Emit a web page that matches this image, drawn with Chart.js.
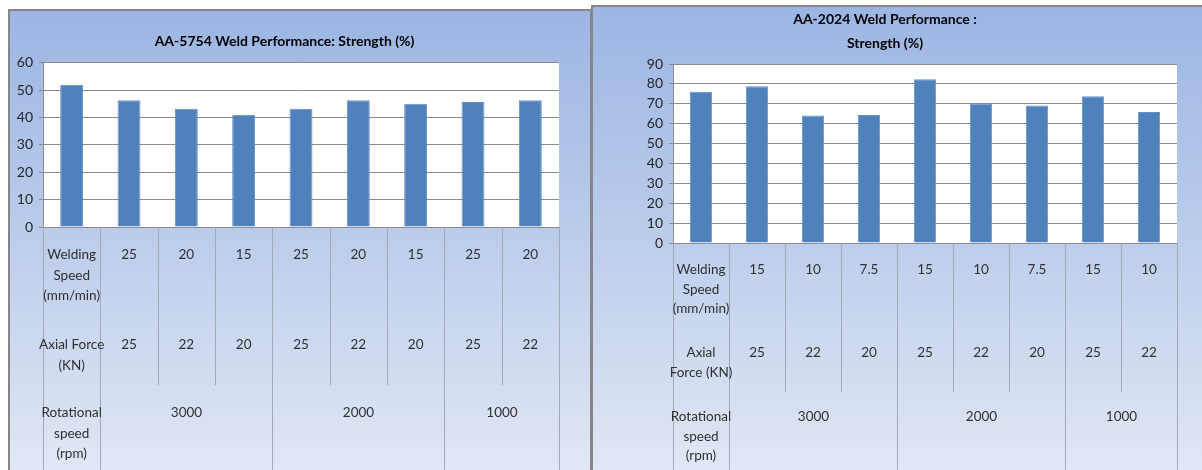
<!DOCTYPE html>
<html>
<head>
<meta charset="utf-8">
<script src="https://cdn.jsdelivr.net/npm/chart.js@4.4.0/dist/chart.umd.min.js"></script>
<style>
  html, body { margin: 0; padding: 0; background: #fff; overflow: hidden; }
  body { width: 1202px; height: 470px; position: relative; }
  .panel { position: absolute; box-sizing: border-box; border: 2px solid #868686; border-bottom: none; }
  #panelA { left: 8px; top: 9px; width: 584px; height: 461px; }
  #panelB { left: 591px; top: 5px; width: 613px; height: 465px; border-right: none; }
  .panel canvas { display: block; }
</style>
</head>
<body>
<div class="panel" id="panelA"><canvas id="chartA"></canvas></div>
<div class="panel" id="panelB"><canvas id="chartB"></canvas></div>
<script>
// AA-5754 data
const strength5754 = [52, 46.3, 43.2, 41, 43.2, 46.3, 45, 45.7, 46.3];
const speed5754 = ['25', '20', '15', '25', '20', '15', '25', '20'];
const force5754 = ['25', '22', '20', '25', '22', '20', '25', '22'];
const yTicks5754 = { min: 0, max: 60, step: 10 };

// AA-2024 data
const strength2024 = [76.1, 78.8, 64.1, 64.4, 82.3, 70.1, 69.1, 73.8, 65.9];
const speed2024 = ['15', '10', '7.5', '15', '10', '7.5', '15', '10'];
const force2024 = ['25', '22', '20', '25', '22', '20', '25', '22'];
const yTicks2024 = { min: 0, max: 90, step: 10 };

// rotational speed groups (shared)
const rpmGroups = ['3000', '2000', '1000'];
const rpmSpans = [3, 3, 2];

const fontFamily = 'Lato, "Open Sans", sans-serif';

// header column labels for the table under the axis
const headA = { speed: ['Welding', 'Speed', '(mm/min)'], force: ['Axial Force', '(KN)'], rpm: ['Rotational', 'speed', '(rpm)'] };
const headB = { speed: ['Welding', 'Speed', '(mm/min)'], force: ['Axial', 'Force (KN)'], rpm: ['Rotational', 'speed', '(rpm)'] };

function makeLabels(head, speed, force) {
  let labels = [head.speed.join(' ')];
  for (let i = 0; i < speed.length; i++) {
    labels.push(speed[i] + ' / ' + force[i]);
  }
  return labels;
}

// panel background: gradient + white plot area
const panelBg = {
  id: 'panelBg',
  beforeDraw(chart) {
    const ctx = chart.ctx;
    const g = ctx.createLinearGradient(0, 0, 0, chart.height);
    g.addColorStop(0, '#9CB5E3');
    g.addColorStop(0.5, '#BCCDEB');
    g.addColorStop(1, '#E1E7F4');
    ctx.save();
    ctx.fillStyle = g;
    ctx.fillRect(0, 0, chart.width, chart.height);
    const a = chart.chartArea;
    ctx.fillStyle = '#ffffff';
    ctx.fillRect(a.left, a.top, a.right - a.left, a.bottom - a.top);
    ctx.restore();
  }
};

// multi level category table drawn under the plot
const catTable = {
  id: 'catTable',
  afterDraw(chart, args, opts) {
    const ctx = chart.ctx;
    const a = chart.chartArea;
    const n = chart.data.labels.length;
    const colW = (a.right - a.left) / n;
    const edge = i => Math.round(a.left + colW * i) + 0.5;
    const mid = i => a.left + colW * (i + 0.5);
    const b = a.bottom;

    // vertical lines
    let full = [0, n];
    let acc = 1;
    full.push(acc);
    rpmSpans.forEach(s => { acc += s; full.push(acc); });
    ctx.save();
    ctx.strokeStyle = '#A3A9B4';
    ctx.lineWidth = 1;
    for (let i = 0; i <= n; i++) {
      ctx.beginPath();
      ctx.moveTo(edge(i), b);
      ctx.lineTo(edge(i), full.includes(i) ? chart.height : b + opts.shortEnd);
      ctx.stroke();
    }

    ctx.fillStyle = '#303030';
    ctx.font = '13.5px ' + fontFamily;
    ctx.textAlign = 'center';
    ctx.textBaseline = 'middle';
    const lh = opts.lineHeight;
    const lines = (arr, cx, y) => arr.forEach((t, k) => ctx.fillText(t, cx, y + k * lh));

    // header column
    lines(opts.head.speed, mid(0), b + opts.rows[0]);
    lines(opts.head.force, mid(0), b + opts.rows[1]);
    lines(opts.head.rpm, mid(0), b + opts.rows[2]);

    // value rows
    opts.speed.forEach((v, i) => ctx.fillText(v, mid(i + 1), b + opts.rows[0]));
    opts.force.forEach((v, i) => ctx.fillText(v, mid(i + 1), b + opts.rows[1]));

    // rotational speed groups
    let start = 1;
    rpmGroups.forEach((g, k) => {
      const cx = (edge(start) + edge(start + rpmSpans[k])) / 2;
      ctx.fillText(g, cx, b + opts.rows[2]);
      start += rpmSpans[k];
    });
    ctx.restore();
  }
};

function buildChart(id, cfg) {
  return new Chart(document.getElementById(id), {
    type: 'bar',
    data: {
      labels: makeLabels(cfg.head, cfg.speed, cfg.force),
      datasets: [{
        data: cfg.values,
        backgroundColor: '#4F81BD',
        borderColor: '#6890C4',
        borderWidth: 1,
        barPercentage: 0.4,
        categoryPercentage: 1
      }]
    },
    options: {
      responsive: false,
      animation: false,
      layout: { padding: cfg.padding },
      plugins: {
        legend: { display: false },
        tooltip: { enabled: false },
        title: {
          display: true,
          text: cfg.title,
          color: '#000000',
          font: { family: fontFamily, size: 14, weight: 'bold', lineHeight: 1.7 },
          padding: cfg.titlePad
        },
        catTable: {
          head: cfg.head, speed: cfg.speed, force: cfg.force,
          rows: cfg.rows, lineHeight: cfg.lineHeight, shortEnd: cfg.shortEnd
        }
      },
      scales: {
        x: { display: false },
        y: {
          min: cfg.ticks.min,
          max: cfg.ticks.max,
          ticks: { stepSize: cfg.ticks.step, color: '#262626', padding: 6, font: { family: fontFamily, size: 14 } },
          grid: { color: '#8A8A8A', tickLength: 4, tickColor: '#8A8A8A' },
          border: { color: '#8A8A8A' },
          afterFit(s) { s.width = cfg.axisW; }
        }
      }
    },
    plugins: [panelBg, catTable]
  });
}

const cA = document.getElementById('chartA');
cA.width = 580; cA.height = 459;
const cB = document.getElementById('chartB');
cB.width = 611; cB.height = 463;

buildChart('chartA', {
  title: 'AA-5754 Weld Performance: Strength (%)',
  values: strength5754, speed: speed5754, force: force5754, head: headA, ticks: yTicks5754,
  padding: { left: 0, top: 0, right: 31, bottom: 243 },
  titlePad: { top: 19, bottom: 9 },
  axisW: 33,
  rows: [28, 118, 186], lineHeight: 20.5, shortEnd: 158
});

buildChart('chartB', {
  title: ['AA-2024 Weld Performance :', 'Strength (%)'],
  values: strength2024, speed: speed2024, force: force2024, head: headB, ticks: yTicks2024,
  padding: { left: 0, top: 0, right: 27, bottom: 227 },
  titlePad: { top: 1, bottom: 8.4 },
  axisW: 80,
  rows: [27, 110, 174], lineHeight: 19.5, shortEnd: 149
});
</script>
</body>
</html>
